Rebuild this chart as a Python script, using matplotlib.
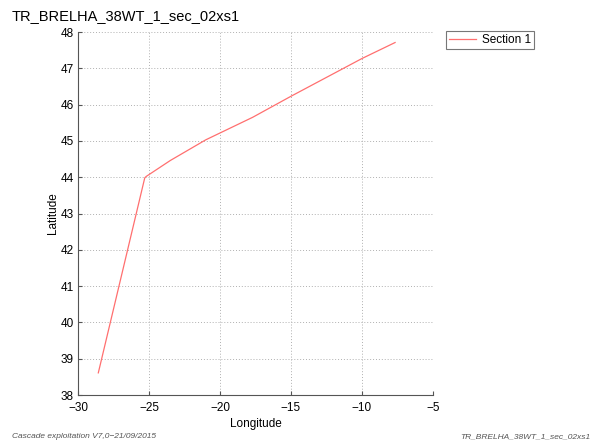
import matplotlib
matplotlib.use("Agg")
import matplotlib.pyplot as plt

plt.rcParams['font.family'] = ['Liberation Sans', 'DejaVu Sans']

lon = [-28.57, -25.3, -25.2, -23.5, -21.0, -17.7, -15.0, -10.0, -7.67]
lat = [38.61, 43.98, 44.02, 44.46, 45.03, 45.65, 46.23, 47.27, 47.71]
xticks = [-30, -25, -20, -15, -10, -5]
yticks = [38, 39, 40, 41, 42, 43, 44, 45, 46, 47, 48]

title = "TR_BRELHA_38WT_1_sec_02xs1"

fig = plt.figure(figsize=(5.92, 4.43), dpi=100)
ax = fig.add_axes([78/592, 1-395/443, (433-78)/592, (395-32)/443])
ax.plot(lon, lat, color="#ff6f6f", lw=0.9, label="Section 1")
ax.set_xlim(-30, -5)
ax.set_ylim(38, 48)
ax.set_xticks(xticks)
ax.set_yticks(yticks)
ax.set_xticklabels(["\u221230", "\u221225", "\u221220", "\u221215", "\u221210", "\u22125"])
ax.grid(True, linestyle=(0, (1, 2)), color="#b0b0b0", lw=0.7)
for s in ["top", "right"]:
    ax.spines[s].set_visible(False)
for s in ["left", "bottom"]:
    ax.spines[s].set_color("#555555")
    ax.spines[s].set_linewidth(0.8)
ax.tick_params(direction="in", length=3, labelsize=8.5, color="#555555")
ax.tick_params(axis="x", pad=5)
ax.tick_params(axis="y", pad=3)
ax.set_xlabel("Longitude", fontsize=8.5, labelpad=3)
ax.set_ylabel("Latitude", fontsize=8.5, labelpad=1)

fig.text(12/592, 1-16/443, title, fontsize=10.5, ha="left", va="center")
leg = fig.legend(loc="upper left", bbox_to_anchor=(446/592, 1-31/443), fontsize=8.5,
                 frameon=True, fancybox=False, edgecolor="#555555", handlelength=2.3,
                 borderpad=0.25, handletextpad=0.5, borderaxespad=0)
leg.get_frame().set_linewidth(0.8)

fig.text(12/592, 1-437/443, "Cascade exploitation V7,0\u221221/09/2015", fontsize=6,
         style="italic", color="#555555", ha="left", va="center")
fig.text(590/592, 1-437/443, "TR_BRELHA_38WT_1_sec_02xs1", fontsize=6,
         style="italic", color="#555555", ha="right", va="center")

fig.savefig("out.png", dpi=100)
